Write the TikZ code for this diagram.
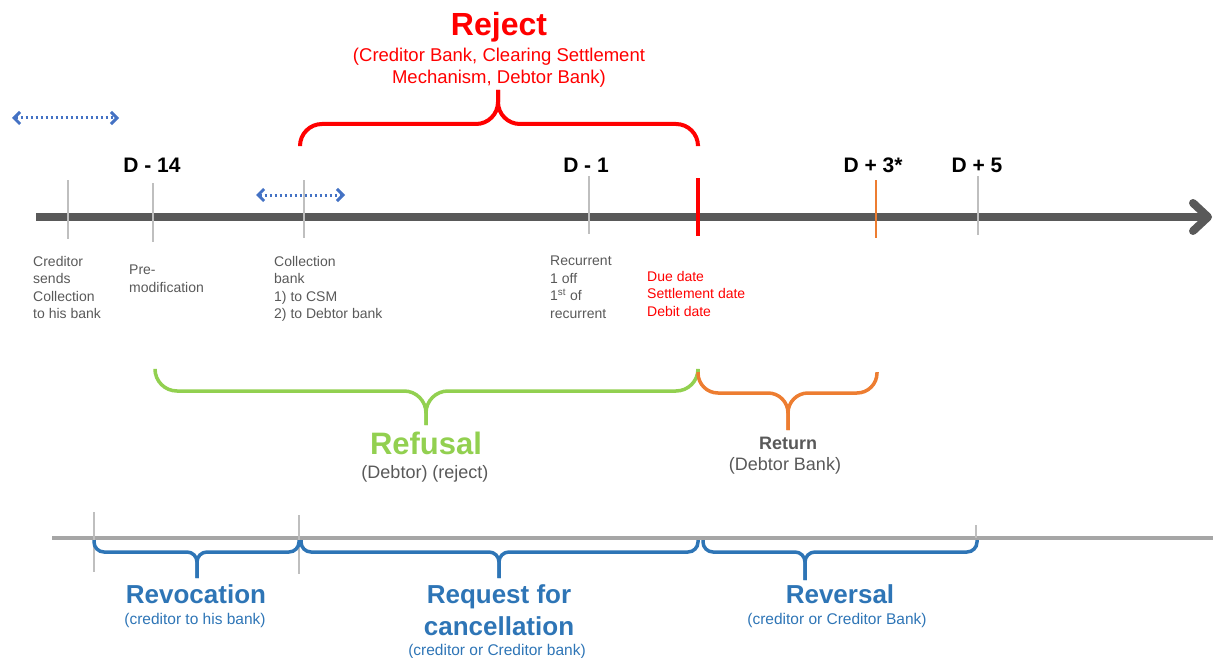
\documentclass[tikz,border=0pt]{standalone}
\usepackage{fontspec}
\setmainfont{Liberation Sans}
\usetikzlibrary{arrows.meta}
\definecolor{cred}{HTML}{FF0000}
\definecolor{cgreen}{HTML}{92D050}
\definecolor{corange}{HTML}{ED7D31}
\definecolor{cblue}{HTML}{2E75B6}
\definecolor{cdot}{HTML}{4472C4}
\definecolor{cgrey}{HTML}{595959}
\definecolor{clight}{HTML}{BFBFBF}
\definecolor{caxis2}{HTML}{A6A6A6}
\newcommand\brc[7]{%
  \draw[#1] (#2,#5) -- (#2,#6) -- (#4,#6) -- (#4,#7);
  \draw[#1] (#3,#5) -- (#3,#6) -- (#4,#6) -- (#4,#7);}
\newcommand\fs[2]{\fontsize{#1}{#2}\selectfont}
\tikzset{
  tickmark/.style={draw=clight, line width=2.5pt},
  daylabel/.style={font=\fs{21}{24}\bfseries, text=black, inner sep=0pt},
  small/.style={font=\fs{14}{17.5}, text=cgrey, align=left, anchor=north west, inner sep=0pt},
  dotarrow/.style={draw=cdot, line width=3pt, dash pattern=on 2.5pt off 2.5pt,
     {Straight Barb[length=6pt,width=12pt,line width=3pt]}-{Straight Barb[length=6pt,width=12pt,line width=3pt]}},
  bracestyle/.style={line width=3.5pt, rounded corners=#1},
}
\begin{document}
\begin{tikzpicture}[x=1pt,y=-1pt]
\useasboundingbox (0,0) rectangle (1213,658);
% main axis
\draw[cgrey, line width=8pt] (36,217) -- (1206,217);
\draw[cgrey, line width=8pt, line cap=round, line join=round] (1193,203) -- (1208,217) -- (1193,231);
% ticks
\draw[tickmark] (68,180) -- (68,239);
\draw[tickmark] (153,183) -- (153,242);
\draw[tickmark] (304,180) -- (304,238);
\draw[tickmark] (589,176) -- (589,234);
\draw[tickmark] (978,176) -- (978,235);
\draw[corange, line width=2.5pt] (876,180) -- (876,238);
\draw[cred, line width=4pt] (698,178) -- (698,236);
% day labels
\node[daylabel] (d14) at (152,165) {D - 14};
\node[daylabel] (d1) at (586,165) {D - 1};
\node[daylabel] (d3) at (873,165) {D + 3*};
\node[daylabel] (d5) at (977,165) {D + 5};
% dotted arrows
\coordinate (a1l) at (12,118); \coordinate (a1r) at (119,118);
\coordinate (a2l) at (256,195); \coordinate (a2r) at (345,195);
\draw[dotarrow] (a1l) -- (a1r);
\draw[dotarrow] (a2l) -- (a2r);
% small texts
\node[small] (t1) at (33,256) {Creditor\\sends\\Collection\\to his bank};
\node[small] (t2) at (129,265) {Pre-\\modification};
\node[small] (t3) at (274,256) {Collection\\bank\\1) to CSM\\2) to Debtor bank};
\node[small] (t4) at (550,256) {Recurrent\\1 off\\1\textsuperscript{st} of\\recurrent};
\node[small, text=cred] (t5) at (647,271) {Due date\\Settlement date\\Debit date};
% Reject
\brc{bracestyle=22pt, draw=cred, line width=4pt}{300}{698}{498}{145}{124}{90}
\node[font=\fs{32}{34}\bfseries, text=cred, inner sep=0pt] (rej) at (499,27) {Reject};
\node[font=\fs{18.5}{22}, text=cred, align=center, inner sep=0pt] (rejsub) at (499,68) {(Creditor Bank, Clearing Settlement\\Mechanism, Debtor Bank)};
% Refusal
\brc{bracestyle=22pt, draw=cgreen}{155}{698}{426}{372}{391}{425}
\node[font=\fs{31}{33}\bfseries, text=cgreen, inner sep=0pt] (ref) at (426,443) {Refusal};
\node[font=\fs{18}{20}, text=cgrey, inner sep=0pt] (refsub) at (425,474) {(Debtor) (reject)};
% Return
\brc{bracestyle=20pt, draw=corange}{698}{877}{788}{372}{393}{430}
\node[font=\fs{18}{20}\bfseries, text=cgrey, inner sep=0pt] (ret) at (788,443) {Return};
\node[font=\fs{18}{20}, text=cgrey, inner sep=0pt] (retsub) at (785,466) {(Debtor Bank)};
% lower axis
\draw[caxis2, line width=4pt] (52,538) -- (1213,538);
\draw[tickmark, line width=2pt] (94,512) -- (94,572);
\draw[tickmark, line width=2pt] (299,515) -- (299,574);
\draw[tickmark, line width=2pt] (976,525) -- (976,538);
% blue braces
\brc{bracestyle=10pt, draw=cblue}{94}{299}{197}{540}{552}{578}
\brc{bracestyle=10pt, draw=cblue}{301}{698}{499}{540}{552}{578}
\brc{bracestyle=10pt, draw=cblue}{703}{977}{805}{540}{552}{580}
\node[font=\fs{26}{32}\bfseries, text=cblue, inner sep=0pt] (rev) at (196,594) {Revocation};
\node[font=\fs{15.5}{18}, text=cblue, inner sep=0pt] (revsub) at (195,620) {(creditor to his bank)};
\node[font=\fs{26}{32}\bfseries, text=cblue, align=center, inner sep=0pt] (req) at (499,610) {Request for\\cancellation};
\node[font=\fs{15.5}{18}, text=cblue, inner sep=0pt] (reqsub) at (497,651) {(creditor or Creditor bank)};
\node[font=\fs{26}{32}\bfseries, text=cblue, inner sep=0pt] (rvs) at (840,594) {Reversal};
\node[font=\fs{15.5}{18}, text=cblue, inner sep=0pt] (rvssub) at (837,620) {(creditor or Creditor Bank)};
\end{tikzpicture}
\end{document}
